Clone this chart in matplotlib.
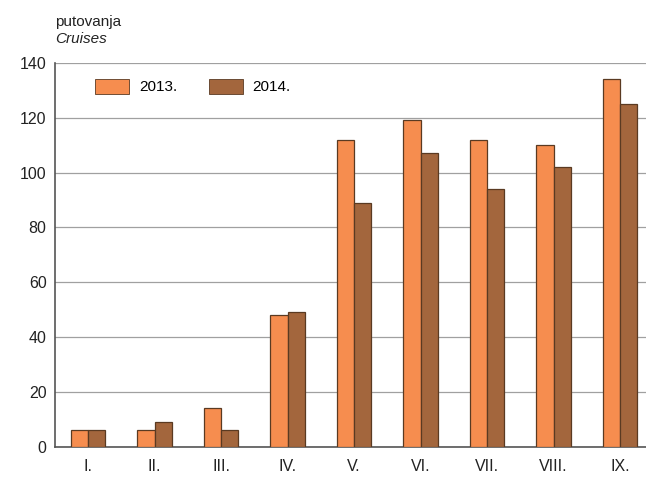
import numpy as np
import matplotlib.pyplot as plt
from matplotlib.patches import Patch

plt.rcParams['font.family'] = ['Liberation Sans', 'DejaVu Sans']

# Monthly cruise counts
months = ['I.', 'II.', 'III.', 'IV.', 'V.', 'VI.', 'VII.', 'VIII.', 'IX.']
cruises_2013 = [6, 6, 14, 48, 112, 119, 112, 110, 134]
cruises_2014 = [6, 9, 6, 49, 89, 107, 94, 102, 125]
years = ['2013.', '2014.']

c13 = '#f68d4f'
c14 = '#a3663d'
edge = '#5a3a22'

fig = plt.figure(figsize=(6.46, 4.8), dpi=100)
ax = fig.add_axes([0.085, 0.069, 0.915, 0.8])

x = np.arange(len(months))
w = 0.26
ax.bar(x - w / 2, cruises_2013, w, color=c13, edgecolor=edge, linewidth=0.9, zorder=3)
ax.bar(x + w / 2, cruises_2014, w, color=c14, edgecolor=edge, linewidth=0.9, zorder=3)

ax.set_ylim(0, 140)
ax.set_xlim(-0.5, 8.39)
ax.set_yticks(range(0, 141, 20))
ax.set_xticks(x)
ax.set_xticklabels(months)
ax.yaxis.grid(True, color='#a0a0a0', linewidth=0.9, zorder=0)
ax.tick_params(axis='both', length=0, labelsize=11.5, colors='#222222', pad=6)
ax.tick_params(axis='x', pad=9)

for s in ['top', 'right']:
    ax.spines[s].set_visible(False)
ax.spines['left'].set_color('#555555')
ax.spines['left'].set_linewidth(1.2)
ax.spines['bottom'].set_color('#555555')
ax.spines['bottom'].set_linewidth(1.2)

handles = [Patch(facecolor=c13, edgecolor=edge, linewidth=0.6),
           Patch(facecolor=c14, edgecolor=edge, linewidth=0.6)]
ax.legend(handles, years, ncol=2, frameon=False, loc='upper left',
          bbox_to_anchor=(0.045, 0.995), handlelength=2.2, handleheight=1.15,
          handletextpad=0.65, columnspacing=2.1, fontsize=11)

fig.text(0.085, 0.945, 'putovanja', fontsize=11, color='#222222')
fig.text(0.085, 0.91, 'Cruises', fontsize=11, style='italic', color='#222222')

plt.savefig('out.png')
